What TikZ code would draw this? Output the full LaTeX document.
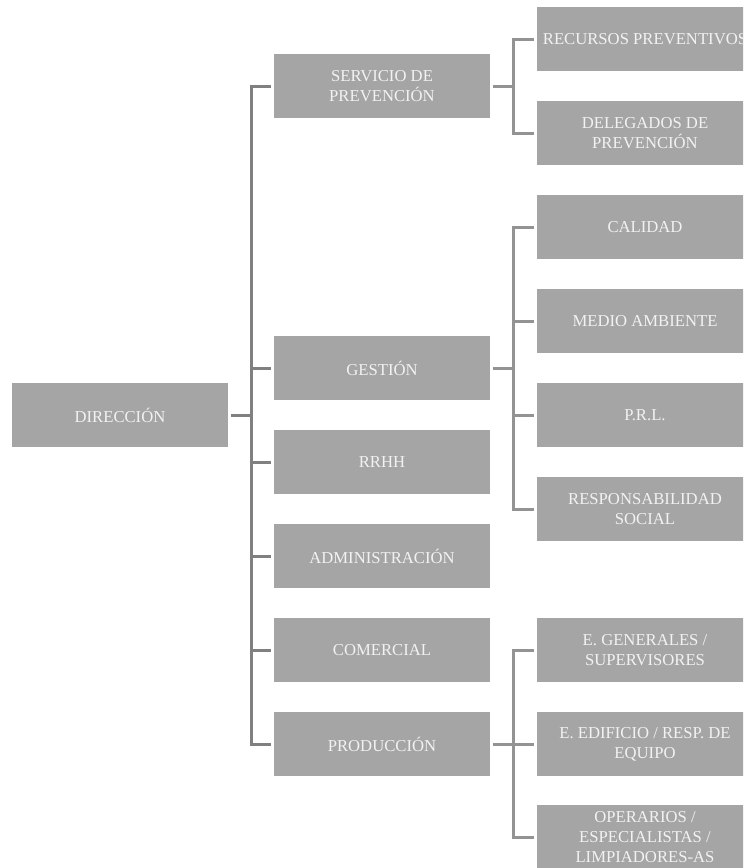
\documentclass[tikz,border=0pt]{standalone}
\usepackage{fontspec}
\setmainfont{Liberation Serif}
\definecolor{boxfill}{HTML}{A5A5A5}
\definecolor{boxtext}{HTML}{F2F2F2}
\definecolor{trunkline}{HTML}{808080}
\definecolor{branchline}{HTML}{939393}
\begin{document}
\begin{tikzpicture}[x=0.75pt,y=-0.75pt,
  orgbox/.style={fill=boxfill, text=boxtext, minimum width=162pt, minimum height=48pt,
    inner sep=0pt, outer sep=2pt, align=center, font=\fontsize{12.5}{15}\selectfont},
  trunk/.style={draw=trunkline, line width=2.25pt},
  branch/.style={draw=branchline, line width=2.25pt}]
\clip (0,0) rectangle (743,868);
\fill[white] (0,0) rectangle (743,868);
% level 0
\node[orgbox] (dir) at (120,415) {DIRECCIÓN};
% level 1
\node[orgbox] (serv) at (382,86) {SERVICIO DE\\PREVENCIÓN};
\node[orgbox] (gest) at (382,368) {GESTIÓN};
\node[orgbox] (rrhh) at (382,462) {RRHH};
\node[orgbox] (adm) at (382,556) {ADMINISTRACIÓN};
\node[orgbox] (com) at (382,650) {COMERCIAL};
\node[orgbox] (prod) at (382,744) {PRODUCCIÓN};
% level 2
\node[orgbox] (rec) at (645,39) {RECURSOS PREVENTIVOS};
\node[orgbox] (del) at (645,133) {DELEGADOS DE\\PREVENCIÓN};
\node[orgbox] (cal) at (645,227) {CALIDAD};
\node[orgbox] (med) at (645,321) {MEDIO AMBIENTE};
\node[orgbox] (prl) at (645,415) {P.R.L.};
\node[orgbox] (resp) at (645,509) {RESPONSABILIDAD\\SOCIAL};
\node[orgbox] (egen) at (645,650) {E. GENERALES /\\SUPERVISORES};
\node[orgbox] (eedif) at (645,744) {E. EDIFICIO / RESP. DE\\EQUIPO};
\node[orgbox] (oper) at (645,837) {OPERARIOS /\\ESPECIALISTAS /\\LIMPIADORES-AS};
% spine coordinates
\coordinate (t) at (251,0);
\coordinate (r) at (513,0);
% trunk
\draw[trunk] (serv.west) -- (serv.west -| t) -- (prod.west -| t) -- (prod.west);
\draw[trunk] (dir.east) -- (dir.east -| t);
\foreach \n in {gest,rrhh,adm,com} \draw[trunk] (\n.west -| t) -- (\n.west);
% servicio branch
\draw[branch] (serv.east) -- (serv.east -| r);
\draw[branch] (rec.west) -- (rec.west -| r) -- (del.west -| r) -- (del.west);
% gestion branch
\draw[branch] (gest.east) -- (gest.east -| r);
\draw[branch] (cal.west) -- (cal.west -| r) -- (resp.west -| r) -- (resp.west);
\foreach \n in {med,prl} \draw[branch] (\n.west -| r) -- (\n.west);
% produccion branch
\draw[branch] (prod.east) -- (prod.east -| r);
\draw[branch] (egen.west) -- (egen.west -| r) -- (oper.west -| r) -- (oper.west);
\draw[branch] (eedif.west -| r) -- (eedif.west);
\end{tikzpicture}
\end{document}
